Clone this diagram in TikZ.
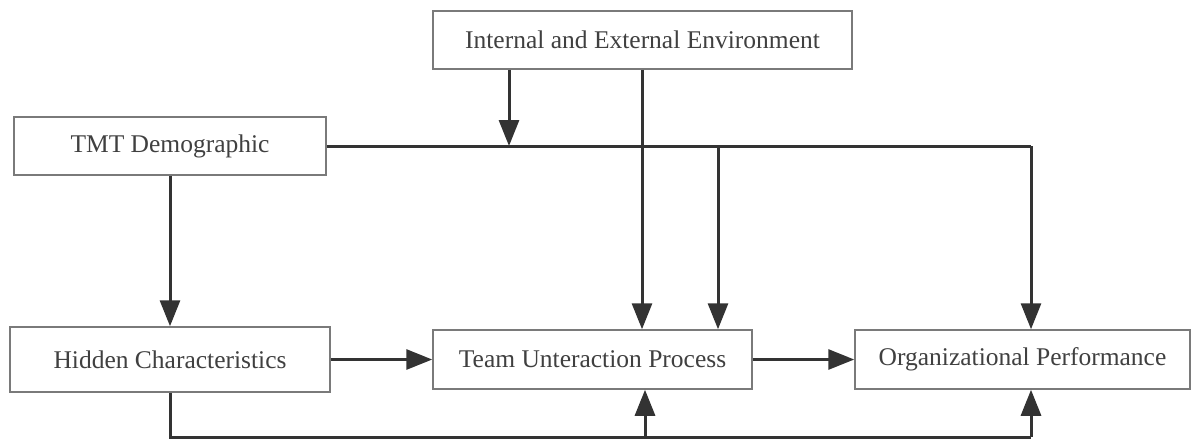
\documentclass[tikz,border=0pt]{standalone}
\usepackage{fontspec}
\setmainfont{Liberation Serif}
\usetikzlibrary{arrows.meta}
\definecolor{boxgray}{HTML}{7A7A7A}
\definecolor{linegray}{HTML}{333333}
\definecolor{textgray}{HTML}{404040}
\begin{document}
\begin{tikzpicture}[x=1pt,y=-1pt,
  box/.style={draw=boxgray, line width=1.5pt, fill=white, inner sep=0pt,
    font=\fontsize{25.5}{30}\selectfont, text=textgray},
  conn/.style={draw=linegray, line width=3pt},
  arr/.style={conn, -{Triangle[length=26pt,width=20pt]}}]
\useasboundingbox (0,0) rectangle (1199,440);
\node[box, minimum width=419pt, minimum height=58pt] (env) at (642.5,40) {Internal and External Environment};
\node[box, minimum width=312pt, minimum height=58pt] (tmt) at (170,146) {TMT Demographic};
\node[box, minimum width=320pt, minimum height=65pt] (hid) at (170,359.5) {Hidden Characteristics};
\node[box, minimum width=319pt, minimum height=59pt] (team) at (592.5,359.5) {Team Unteraction Process};
\node[box, minimum width=335pt, minimum height=59pt] (org) at (1022.5,359.5) {Organizational Performance};
\coordinate (jE) at (509,146);
\coordinate (jB) at (718,146);
\coordinate (jR) at (1031,146);
\coordinate (xE) at (642,0);
\coordinate (b1) at (170,437);
\coordinate (b2) at (645,437);
\coordinate (b3) at (1031,437);
\draw[conn] (tmt.east) -- (jR);
\draw[arr] (env.south -| jE) -- (jE);
\draw[arr] (env.south -| xE) -- (xE |- team.north);
\draw[arr] (jB) -- (jB |- team.north);
\draw[arr] (jR) -- (jR |- org.north);
\draw[arr] (tmt.south) -- (hid.north);
\draw[arr] (hid.east) -- (team.west);
\draw[arr] (team.east) -- (org.west);
\draw[conn] (hid.south) -- (b1) -- (b3);
\draw[arr] (b3) -- (b3 |- org.south);
\draw[arr] (b2) -- (b2 |- team.south);
\end{tikzpicture}
\end{document}
